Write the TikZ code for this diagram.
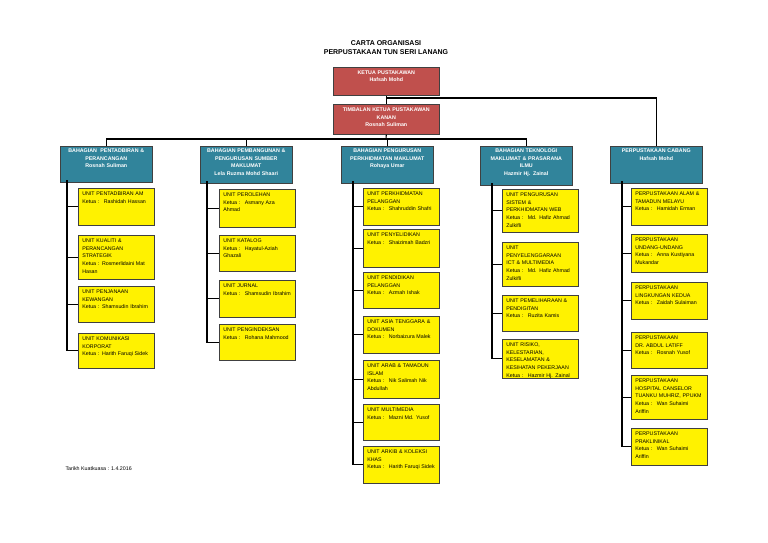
\documentclass[tikz,border=0pt]{standalone}
\usepackage{fontspec}
\setmainfont{Liberation Sans}
\usepackage{tikz}

\definecolor{ketuared}{HTML}{C0504D}
\definecolor{bahagianteal}{HTML}{31849B}
\newcommand{\orgfont}{\fontsize{5.3}{7.7}\selectfont}

\tikzset{
  link/.style={line width=1.1pt, black},
  ketuabox/.style={draw=black!75, line width=0.6pt, fill=ketuared, text=white,
    font={\orgfont\bfseries}, anchor=north west, align=center,
    text width=100pt, inner xsep=3pt, inner ysep=2pt, text height=5pt},
  bahagianbox/.style={draw=black!75, line width=0.6pt, fill=bahagianteal, text=white,
    font={\orgfont\bfseries}, anchor=north west, align=center,
    text width=86pt, inner xsep=3pt, inner ysep=1.5pt, text height=4.5pt},
  unitbox/.style={draw=black!75, line width=0.6pt, fill=yellow,
    font=\orgfont, anchor=north west, align=left,
    text width=68pt, inner xsep=4pt, inner ysep=2pt, text height=5pt}
}

\begin{document}
\begin{tikzpicture}[x=1pt, y=-1pt]
  \path[use as bounding box, fill=white] (0,0) rectangle (768,543);

  % Title
  \node[font={\fontsize{7}{9}\selectfont\bfseries}, align=center] (title) at (386,48)
    {CARTA ORGANISASI\\PERPUSTAKAAN TUN SERI LANANG};

  % Ketua and timbalan
  \node[ketuabox, text depth=19pt] (ketua) at (333,67) {KETUA PUSTAKAWAN\\Hafsah Mohd};
  \node[ketuabox, text depth=21pt] (timbalan) at (333,104)
    {TIMBALAN KETUA PUSTAKAWAN\\KANAN\\Rosnah Suliman};

  % Bahagian headers
  \node[bahagianbox, text depth=28pt] (pentadbiran) at (60,146)
    {BAHAGIAN \ PENTADBIRAN \&\\PERANCANGAN\\Rosnah Suliman};
  \node[bahagianbox, text depth=29pt] (pembangunan) at (200,146)
    {BAHAGIAN PEMBANGUNAN \&\\PENGURUSAN SUMBER\\MAKLUMAT\\Lela Ruzma Mohd Shaari};
  \node[bahagianbox, text depth=29pt] (perkhidmatan) at (341,146)
    {BAHAGIAN PENGURUSAN\\PERKHIDMATAN MAKLUMAT\\Rohaya Umar};
  \node[bahagianbox, text depth=31pt] (teknologi) at (480,146)
    {BAHAGIAN TEKNOLOGI\\MAKLUMAT \& PRASARANA\\ILMU\\Hazmir Hj. Zainal};
  \node[bahagianbox, text depth=29pt] (cabang) at (610,146)
    {PERPUSTAKAAN CABANG\\Hafsah Mohd};

  % Top connectors
  \coordinate (j1) at (386,98);
  \coordinate (j2) at (386,139);
  \draw[link] (ketua.south) -- (timbalan.north);
  \draw[link] (j1) -| (cabang.north);
  \draw[link] (timbalan.south) -- (j2);
  \draw[link] (pentadbiran.north) |- (j2) -| (teknologi.north);
  \draw[link] (pembangunan.north) -- (pembangunan.north |- j2);
  \draw[link] (perkhidmatan.north) -- (perkhidmatan.north |- j2);

  % Trunks
  \coordinate (t1) at (67,180);
  \coordinate (t2) at (207,181);
  \coordinate (t3) at (353,181);
  \coordinate (t4) at (492,183);
  \coordinate (t5) at (622,181);

  % Bahagian Pentadbiran & Perancangan
  \foreach \n/\y/\h/\txt [evaluate=\h as \d using \h-9] in {
      1/188/37/{UNIT PENTADBIRAN AM\\Ketua : \ Rashidah Hassan},
      2/235/44/{UNIT KUALITI \&\\PERANCANGAN\\STRATEGIK\\Ketua : Rosmerlidaini Mat\\Hasan},
      3/286/36/{UNIT PENJANAAN\\KEWANGAN\\Ketua : Shamsudin Ibrahim},
      4/333/35/{UNIT KOMUNIKASI\\KORPORAT\\Ketua : Harith Faruqi Sidek}} {
    \node[unitbox, text depth=\d pt] (pentadbiran-\n) at (78,\y) {\txt};
    \draw[link] (t1) |- (pentadbiran-\n.west);
  }

  % Bahagian Pembangunan & Pengurusan Sumber Maklumat
  \foreach \n/\y/\h/\txt [evaluate=\h as \d using \h-9] in {
      1/189/38/{UNIT PEROLEHAN\\Ketua : \ Asmany Aza\\Ahmad},
      2/235/36/{UNIT KATALOG\\Ketua : \ Hayatul-Aziah\\Ghazali},
      3/280/37/{UNIT JURNAL\\Ketua : \ Shamsudin Ibrahim},
      4/324/36/{UNIT PENGINDEKSAN\\Ketua : \ Rohana Mahmood}} {
    \node[unitbox, text depth=\d pt] (pembangunan-\n) at (219,\y) {\txt};
    \draw[link] (t2) |- (pembangunan-\n.west);
  }

  % Bahagian Pengurusan Perkhidmatan Maklumat
  \foreach \n/\y/\h/\txt [evaluate=\h as \d using \h-9] in {
      1/188/37/{UNIT PERKHIDMATAN\\PELANGGAN\\Ketua : \ Shahruddin Shafri},
      2/229/38/{UNIT PENYELIDIKAN\\Ketua : \ Shaizimah Badzri},
      3/272/36/{UNIT PENDIDIKAN\\PELANGGAN\\Ketua : \ Azmah Ishak},
      4/316/37/{UNIT ASIA TENGGARA \&\\DOKUMEN\\Ketua : \ Norbaizura Malek},
      5/360/38/{UNIT ARAB \& TAMADUN\\ISLAM\\Ketua : \ Nik Salimah Nik\\Abdullah},
      6/404/36/{UNIT MULTIMEDIA\\Ketua : \ Mazni Md. Yusof},
      7/446/37/{UNIT ARKIB \& KOLEKSI\\KHAS\\Ketua : \ Harith Faruqi Sidek}} {
    \node[unitbox, text depth=\d pt] (perkhidmatan-\n) at (363,\y) {\txt};
    \draw[link] (t3) |- (perkhidmatan-\n.west);
  }

  % Bahagian Teknologi Maklumat & Prasarana Ilmu
  \foreach \n/\y/\h/\txt [evaluate=\h as \d using \h-9] in {
      1/189/43/{UNIT PENGURUSAN\\SISTEM \&\\PERKHIDMATAN WEB\\Ketua : \ Md. Hafiz Ahmad\\Zulkifli},
      2/242/44/{UNIT\\PENYELENGGARAAN\\ICT \& MULTIMEDIA\\Ketua : \ Md. Hafiz Ahmad\\Zulkifli},
      3/295/36/{UNIT PEMELIHARAAN \&\\PENDIGITAN\\Ketua : \ Ruzita Kamis},
      4/339/39/{UNIT RISIKO,\\KELESTARIAN,\\KESELAMATAN \&\\KESIHATAN PEKERJAAN\\Ketua : \ Hazmir Hj. Zainal}} {
    \node[unitbox, text depth=\d pt] (teknologi-\n) at (502,\y) {\txt};
    \draw[link] (t4) |- (teknologi-\n.west);
  }

  % Perpustakaan Cabang
  \foreach \n/\y/\h/\txt [evaluate=\h as \d using \h-9] in {
      1/188/37/{PERPUSTAKAAN ALAM \&\\TAMADUN MELAYU\\Ketua : \ Hamidah Erman},
      2/234/38/{PERPUSTAKAAN\\UNDANG-UNDANG\\Ketua : \ Anna Kustiyana\\Mukandar},
      3/282/37/{PERPUSTAKAAN\\LINGKUNGAN KEDUA\\Ketua : \ Zaidah Sulaiman},
      4/332/36/{PERPUSTAKAAN\\DR. ABDUL LATIFF\\Ketua : \ Rosnah Yusof},
      5/375/44/{PERPUSTAKAAN\\HOSPITAL CANSELOR\\TUANKU MUHRIZ, PPUKM\\Ketua : \ Wan Suhaimi\\Ariffin},
      6/428/37/{PERPUSTAKAAN\\PRAKLINIKAL\\Ketua : \ Wan Suhaimi\\Ariffin}} {
    \node[unitbox, text depth=\d pt] (cabang-\n) at (631,\y) {\txt};
    \draw[link] (t5) |- (cabang-\n.west);
  }

  % Date
  \node[font=\orgfont, anchor=west] (tarikh) at (62,469) {Tarikh Kuatkuasa : 1.4.2016};
\end{tikzpicture}
\end{document}
